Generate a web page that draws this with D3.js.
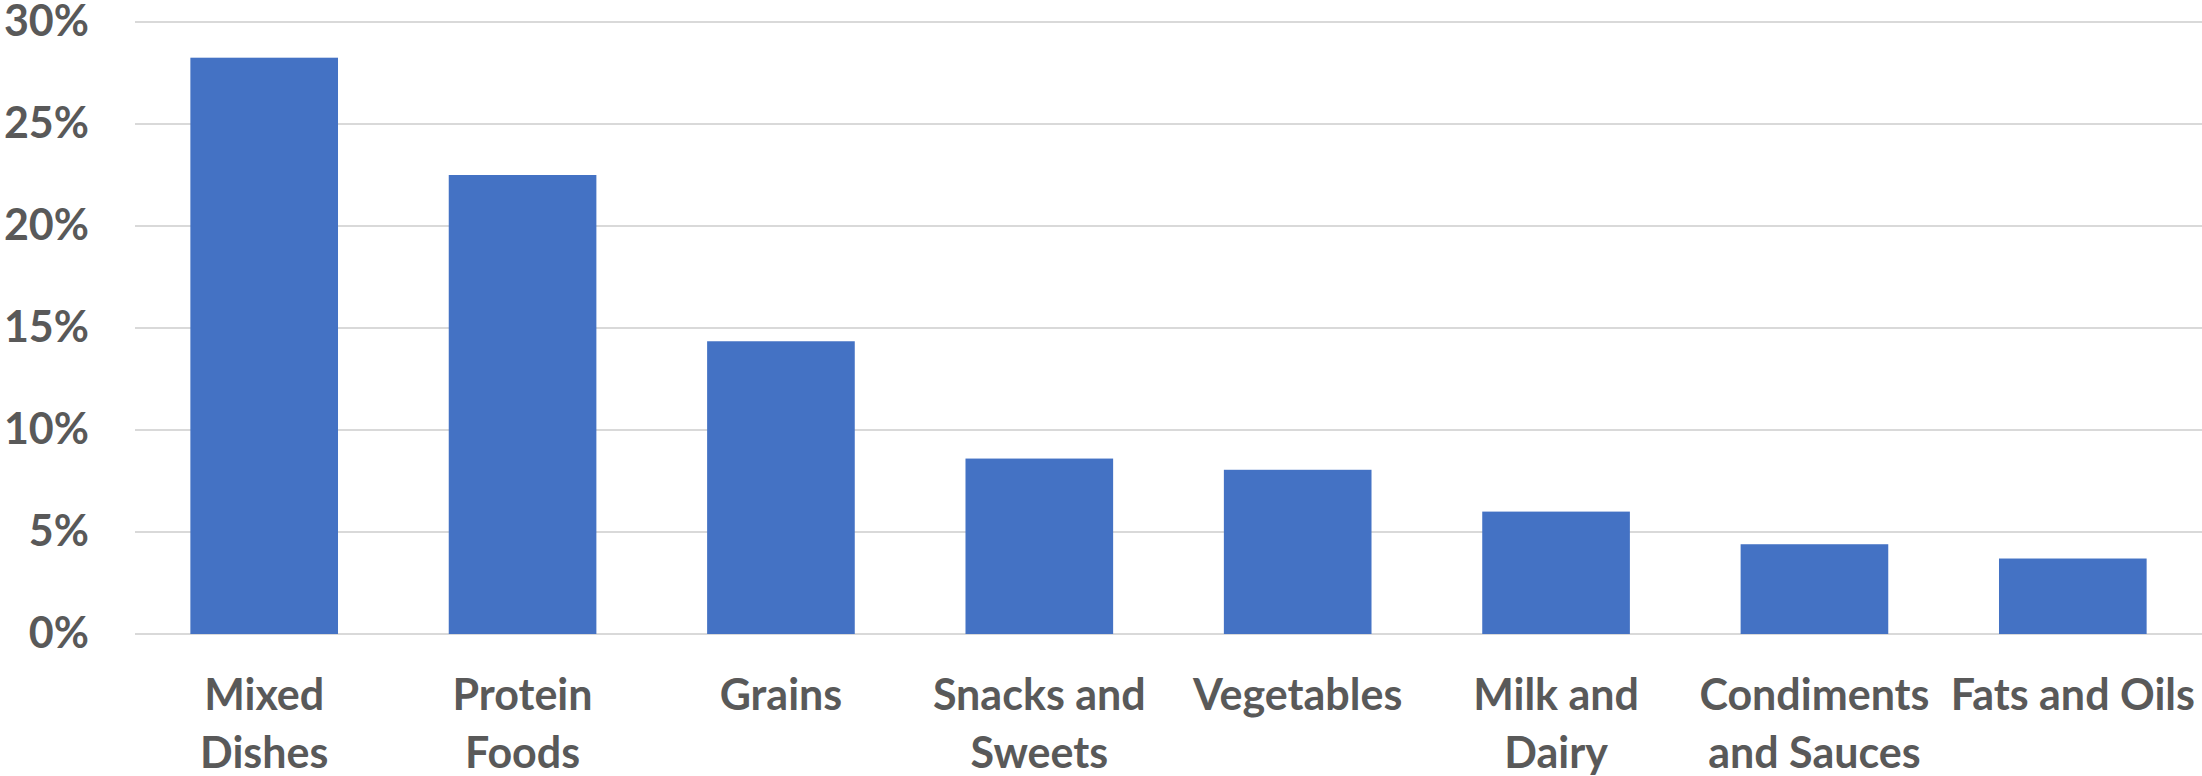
<!DOCTYPE html>
<html>
<head>
<meta charset="utf-8">
<script src="https://cdn.jsdelivr.net/npm/d3@7"></script>
<style>
  html, body { margin: 0; padding: 0; background: #ffffff; }
  svg { display: block; }
</style>
</head>
<body>
<svg id="chart"></svg>
<script>
// Share of intake by food category
const categories = ["Mixed Dishes", "Protein Foods", "Grains", "Snacks and Sweets",
  "Vegetables", "Milk and Dairy", "Condiments and Sauces", "Fats and Oils"];
// Axis label lines for each category
const categoryLines = [["Mixed", "Dishes"], ["Protein", "Foods"], ["Grains"], ["Snacks and", "Sweets"],
  ["Vegetables"], ["Milk and", "Dairy"], ["Condiments", "and Sauces"], ["Fats and Oils"]];
const values = [28.25, 22.5, 14.35, 8.6, 8.05, 6.0, 4.4, 3.7];
const yTicks = [0, 5, 10, 15, 20, 25, 30];

const W = 2202, H = 776;
const margin = { top: 22, right: 0, bottom: 142, left: 135 };
const innerW = W - margin.left - margin.right;
const innerH = H - margin.top - margin.bottom;

const svg = d3.select("#chart").attr("width", W).attr("height", H);
const g = svg.append("g").attr("transform", `translate(${margin.left},${margin.top})`);

const x = d3.scaleBand().domain(categories).range([0, innerW])
  .paddingInner(0.75 / 1.75).paddingOuter(0.75 / 3.5);
const y = d3.scaleLinear().domain([0, 30]).range([innerH, 0]);

const font = "Lato, 'Open Sans', sans-serif";
const textColor = "#595959";

// Horizontal gridlines
g.append("g").selectAll("line").data(yTicks).join("line")
  .attr("x1", 0).attr("x2", innerW)
  .attr("y1", d => y(d)).attr("y2", d => y(d))
  .attr("stroke", "#d9d9d9").attr("stroke-width", 2);

// Y axis labels
const yAxis = g.append("g")
  .call(d3.axisLeft(y).tickValues(yTicks).tickFormat(d => d + "%").tickSize(0).tickPadding(46));
yAxis.select(".domain").remove();
yAxis.selectAll("text")
  .attr("fill", textColor).style("font-family", font)
  .style("font-size", "43px").style("font-weight", "bold");

// Bars
g.append("g").selectAll("rect").data(values).join("rect")
  .attr("x", (d, i) => x(categories[i]))
  .attr("width", x.bandwidth())
  .attr("y", d => y(d))
  .attr("height", d => y(0) - y(d))
  .attr("fill", "#4472c4");

// X axis category labels
const xAxis = g.append("g").attr("transform", `translate(0,${innerH})`)
  .call(d3.axisBottom(x).tickSize(0).tickFormat(""));
xAxis.select(".domain").remove();
xAxis.selectAll(".tick").each(function(d, i) {
  const t = d3.select(this).append("text")
    .attr("fill", textColor).attr("text-anchor", "middle")
    .style("font-family", font).style("font-size", "43px").style("font-weight", "bold");
  categoryLines[i].forEach((line, k) => {
    t.append("tspan").attr("x", 0).attr("y", 76 + k * 58).text(line);
  });
});
</script>
</body>
</html>
